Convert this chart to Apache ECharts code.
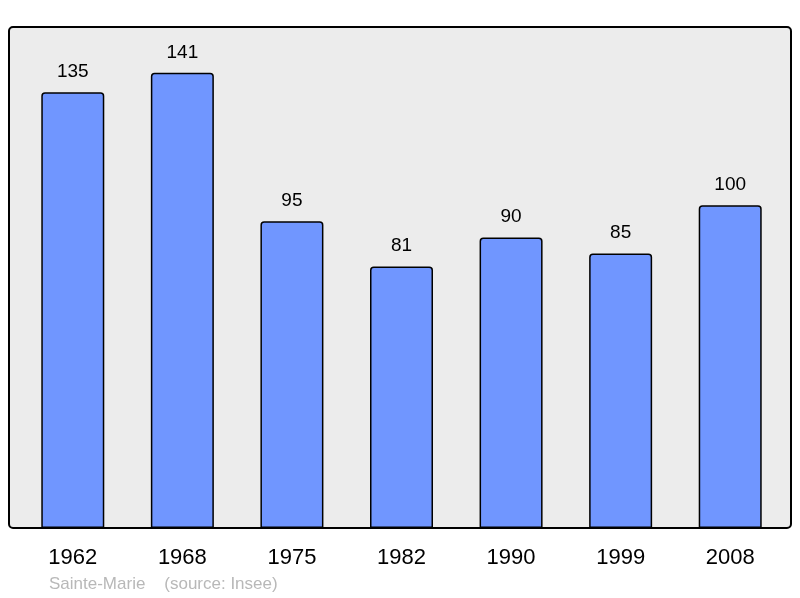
<!DOCTYPE html>
<html>
<head>
<meta charset="utf-8">
<script src="https://cdn.jsdelivr.net/npm/echarts@6/dist/echarts.min.js"></script>
<style>
  html, body { margin: 0; padding: 0; background: #fff; }
  #chart { width: 800px; height: 598px; }
</style>
</head>
<body>
<div id="chart"></div>
<script>
const years = ['1962', '1968', '1975', '1982', '1990', '1999', '2008'];
const population = [135, 141, 95, 81, 90, 85, 100];
const placeName = 'Sainte-Marie';
const sourceText = '(source: Insee)';

const chart = echarts.init(document.getElementById('chart'));

chart.setOption({
  animation: false,
  textStyle: {fontFamily: 'Liberation Sans, Arial, sans-serif'},
  graphic: [
    // plot frame behind the bars
    {
      type: 'rect',
      z: -10,
      shape: {x: 9, y: 27, width: 782, height: 501, r: 4},
      style: {fill: '#ececec', stroke: '#000', lineWidth: 2}
    },
    {
      type: 'text',
      left: 49,
      top: 576,
      style: {
        text: placeName + '    ' + sourceText,
        fill: '#b8b8b8',
        font: '17px "Liberation Sans", Arial, sans-serif'
      }
    }
  ],
  grid: {left: 18, right: 15, top: 27, bottom: 70},
  xAxis: {
    type: 'category',
    data: years,
    axisLine: {show: false},
    axisTick: {show: false},
    axisLabel: {color: '#000', fontSize: 22, margin: 19}
  },
  yAxis: {
    type: 'value',
    min: 0,
    max: 155.2,
    show: false,
    splitLine: {show: false}
  },
  series: [{
    type: 'bar',
    data: population,
    barWidth: 63,
    itemStyle: {
      color: '#7096ff',
      borderColor: '#000',
      borderWidth: 1.5,
      borderRadius: [3, 3, 0, 0]
    },
    label: {
      show: true,
      position: 'top',
      distance: 11,
      color: '#000',
      fontSize: 19
    }
  }]
});
</script>
</body>
</html>
